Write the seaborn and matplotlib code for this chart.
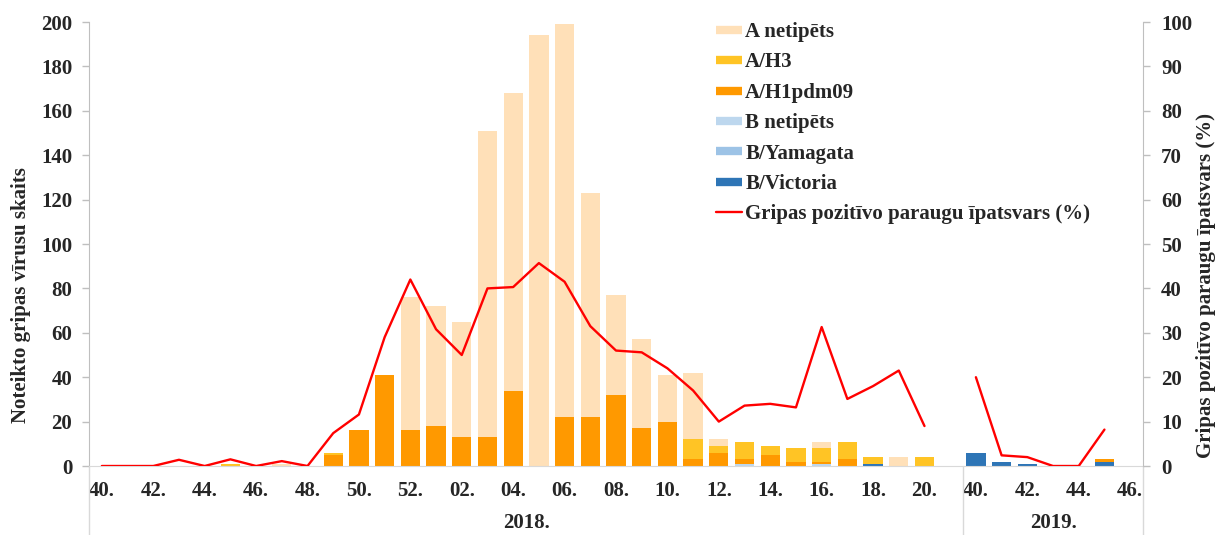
import numpy as np
import pandas as pd
import matplotlib
matplotlib.use("Agg")
import matplotlib.pyplot as plt
from matplotlib.lines import Line2D
import seaborn as sns

# week labels and seasons (week 21 of the 2018 season is an empty slot)
weeks = ["40.", "41.", "42.", "43.", "44.", "45.", "46.", "47.", "48.", "49.", "50.", "51.", "52.",
         "01.", "02.", "03.", "04.", "05.", "06.", "07.", "08.", "09.", "10.", "11.", "12.", "13.",
         "14.", "15.", "16.", "17.", "18.", "19.", "20.", "21.",
         "40.", "41.", "42.", "43.", "44.", "45.", "46."]
seasons = ["2018."] * 34 + ["2019."] * 7

a_netip = [0, 0, 0, 0, 0, 0, 0, 1, 0, 0, 0, 0, 60, 54, 52, 138, 134, 194, 177, 101, 45, 40, 21, 30, 3, 0,
           0, 0, 3, 0, 0, 4, 0, 0,
           0, 0, 0, 0, 0, 0, 0]
a_h3 = [0, 0, 0, 0, 0, 1, 0, 0, 0, 1, 0, 0, 0, 0, 0, 0, 0, 0, 0, 0, 0, 0, 0, 9, 3, 8,
        4, 6, 6, 8, 3, 0, 4, 0,
        0, 0, 0, 0, 0, 0, 0]
a_h1 = [0, 0, 0, 0, 0, 0, 0, 0, 0, 5, 16, 41, 16, 18, 13, 13, 34, 0, 22, 22, 32, 17, 20, 3, 6, 2,
        5, 2, 1, 3, 0, 0, 0, 0,
        0, 0, 0, 0, 0, 1, 0]
b_netip = [0] * 25 + [1, 0, 0, 1, 0, 0, 0, 0, 0] + [0] * 7
b_yam = [0] * 41
b_vic = [0] * 30 + [1, 0, 0, 0] + [6, 2, 1, 0, 0, 2, 0]

pct = [0, 0, 0, 1.4, 0, 1.5, 0, 1.1, 0, 7.4, 11.6, 29, 42, 30.8, 25, 40, 40.3, 45.7, 41.5, 31.5, 26,
       25.6, 22, 17, 10, 13.6, 14, 13.2, 31.3, 15.1, 18, 21.5, 9, np.nan,
       20, 2.4, 2, 0, 0, 8.2, np.nan]

series = [("B/Victoria", b_vic, "#2E75B6"),
          ("B/Yamagata", b_yam, "#9DC3E6"),
          ("B netipēts", b_netip, "#BDD7EE"),
          ("A/H1pdm09", a_h1, "#FF9900"),
          ("A/H3", a_h3, "#FFC425"),
          ("A netipēts", a_netip, "#FFE0B8")]
left_label = "Noteikto gripas vīrusu skaits"
line_label = "Gripas pozitīvo paraugu īpatsvars (%)"

df = pd.DataFrame({"key": [s + w for s, w in zip(seasons, weeks)]})
cum = np.zeros(len(weeks))
for name, vals, col in series:
    cum = cum + np.array(vals, dtype=float)
    df[name] = cum

sns.set_style("ticks")
plt.rcParams["font.family"] = ["Liberation Serif", "DejaVu Serif"]
plt.rcParams["font.weight"] = "bold"
fs = 15
W, H = 1222, 535

fig = plt.figure(figsize=(W / 100, H / 100), dpi=100)
ax = fig.add_axes([89 / W, 1 - 466 / H, (1143 - 89) / W, 444 / H])

# stacked bars: draw cumulative totals from the top layer down
for name, vals, col in reversed(series):
    sns.barplot(data=df, x="key", y=name, color=col, saturation=1, width=0.75,
                errorbar=None, linewidth=0, ax=ax)

ax.set_xlim(-0.5, len(weeks) - 0.5)
ax.set_ylim(0, 200)
ax.set_yticks(range(0, 201, 20))
ax.set_xticks(range(0, len(weeks), 2))
ax.set_xticklabels(weeks[::2], fontsize=fs, fontweight="bold")
ax.tick_params(axis="x", length=0, pad=11)
ax.tick_params(axis="y", length=5, width=1, color="#BFBFBF", pad=7, labelsize=fs)
ax.set_xlabel("")
ax.set_ylabel("")
for s in ["top", "right"]:
    ax.spines[s].set_visible(False)
ax.spines["left"].set_color("#BFBFBF")
ax.spines["bottom"].set_color("#D9D9D9")

ax2 = ax.twinx()
ax2.plot(range(len(weeks)), pct, color="#FF0000", lw=1.7)
ax2.set_ylim(0, 100)
ax2.set_yticks(range(0, 101, 10))
ax2.tick_params(axis="y", length=5, width=1, color="#BFBFBF", pad=8, labelsize=fs)
for s in ["top", "left", "bottom"]:
    ax2.spines[s].set_visible(False)
ax2.spines["right"].set_color("#BFBFBF")

# axis titles sit a bit below the axes centre, as in the original
fig.text(21 / W, 1 - 295 / H, left_label, rotation=90, ha="center", va="center",
         fontsize=fs, fontweight="bold")
fig.text(1206 / W, 1 - 286 / H, line_label, rotation=90, ha="center", va="center",
         fontsize=fs, fontweight="bold")

# season grouping below the week labels
trans = ax.get_xaxis_transform()
bounds = [-0.5, 33.5, len(weeks) - 0.5]
for b in bounds:
    ax.plot([b, b], [0, -0.16], color="#D9D9D9", lw=1, transform=trans, clip_on=False)
for lab in dict.fromkeys(seasons):
    idx = [i for i, s in enumerate(seasons) if s == lab]
    ax.text((idx[0] + idx[-1]) / 2, -0.128, lab, transform=trans, ha="center", va="center",
            fontsize=fs, fontweight="bold")

handles = [Line2D([], [], color=col, lw=6, solid_capstyle="butt") for name, vals, col in reversed(series)]
handles.append(Line2D([], [], color="#FF0000", lw=1.7))
labels = [name for name, vals, col in reversed(series)] + [line_label]
fig.legend(handles, labels, loc="upper left", bbox_to_anchor=(716 / W, 1 - 22 / H),
           frameon=False, fontsize=fs, handlelength=1.25, handletextpad=0.15,
           labelspacing=0.5, borderpad=0, borderaxespad=0)

fig.savefig("out.png", dpi=100)
